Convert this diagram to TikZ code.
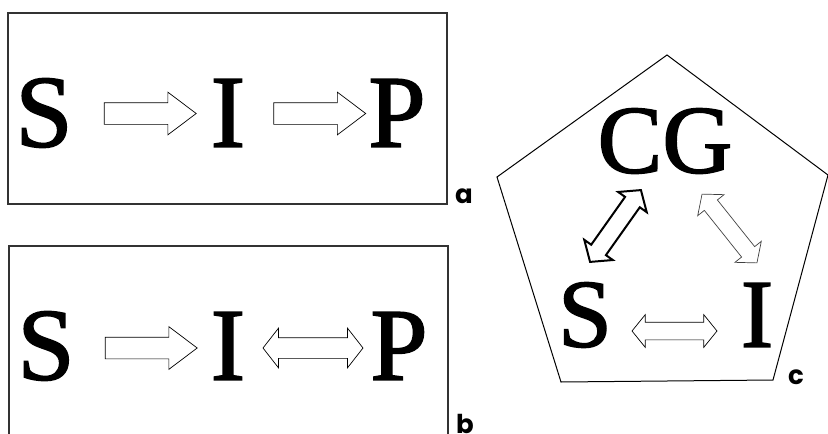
\documentclass[tikz,border=0pt]{standalone}
\usepackage{fontspec}
\setmainfont{Liberation Serif}
\newfontfamily\letterfont[FakeBold=1.6]{Liberation Serif}
\newfontfamily\tagfont{Poppins}
\usetikzlibrary{shapes.arrows,shapes.geometric}

\begin{document}
\begin{tikzpicture}[x=1pt,y=-1pt,
  letter/.style={inner sep=0pt,font=\letterfont\fontsize{103}{103}\selectfont},
  tag/.style={inner sep=0pt,font=\tagfont\bfseries\fontsize{26}{26}\selectfont},
  frame/.style={draw=black!80,line width=1.1pt},
  fwd/.style={single arrow,draw,line width=0.7pt,inner xsep=0pt,
    single arrow tip angle=74,minimum height=92pt,
    inner ysep=10.5pt,single arrow head extend=10.5pt},
  both/.style={double arrow,draw,line width=0.7pt,inner xsep=0pt,
    double arrow tip angle=102}]
\useasboundingbox (0,0) rectangle (828,434);

% panel a
\draw[frame] (8,13) rectangle (447,204);
\node[letter] (s1) at (44,113) {S};
\node[letter] (i1) at (228,113) {I};
\node[letter] (p1) at (397,113) {P};
\node[fwd] (a1) at (143,113.5) {};
\node[fwd] (a2) at (312.5,113.5) {};
\node[tag] (ta) at (464,196) {a};

% panel b
\draw[frame] (9,246) rectangle (448,460);
\node[letter] (s2) at (46,346) {S};
\node[letter] (i2) at (228,346) {I};
\node[letter] (p2) at (399,346) {P};
\node[fwd] (b1) at (144,348) {};
\node[both,minimum height=100pt,inner ysep=10pt,double arrow head extend=9.5pt,
  double arrow tip angle=104] (b2) at (313,348) {};
\node[tag] (tb) at (465,424) {b};

% panel c
\draw[line width=1pt] (667,55) -- (828,175) -- (773,380) -- (561,382) -- (497,177) -- cycle;
\node[letter,font=\letterfont\fontsize{97}{97}\selectfont] (cg) at (665,141) {CG};
\node[letter,font=\letterfont\fontsize{97}{97}\selectfont] (s3) at (585,315) {S};
\node[letter,font=\letterfont\fontsize{97}{97}\selectfont] (i3) at (757,315) {I};
\node[both,minimum height=85pt,inner ysep=8.5pt,double arrow head extend=7.5pt]
  (c1) at (674.5,331) {};
\node[both,line width=2pt,rotate=54.7,minimum height=88pt,inner ysep=8pt,
  double arrow head extend=8.5pt,double arrow tip angle=100] (c2) at (615.5,226) {};
\node[both,draw=black!75,line width=0.7pt,rotate=-51.4,minimum height=88pt,inner ysep=8pt,
  double arrow head extend=8.5pt,double arrow tip angle=100] (c3) at (729.5,228.5) {};
\node[tag] (tc) at (796,377) {c};
\end{tikzpicture}
\end{document}
